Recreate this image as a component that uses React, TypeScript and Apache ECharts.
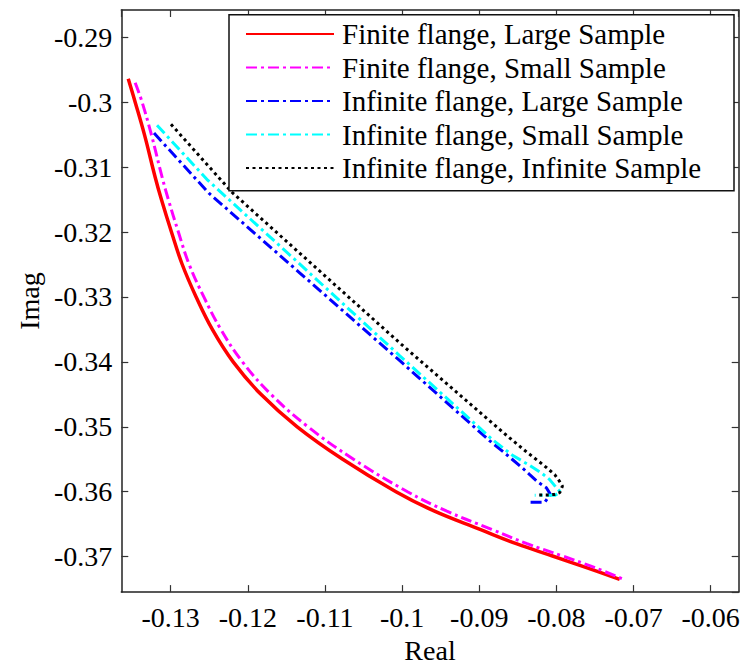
import React, { useEffect, useRef } from "react";
import * as echarts from "echarts";

const seriesNames = [
  "Finite flange, Large Sample",
  "Finite flange, Small Sample",
  "Infinite flange, Large Sample",
  "Infinite flange, Small Sample",
  "Infinite flange, Infinite Sample",
];

const finiteLarge: number[][] = [
  [-0.1355, -0.2964], [-0.1346, -0.300], [-0.1334, -0.305], [-0.1320, -0.3116],
  [-0.1312, -0.315], [-0.1299, -0.320], [-0.1285, -0.325], [-0.1267, -0.330],
  [-0.1246, -0.335], [-0.1219, -0.340], [-0.1183, -0.345], [-0.1136, -0.350],
  [-0.1077, -0.355], [-0.1008, -0.360], [-0.0958, -0.3630], [-0.0899, -0.3658],
  [-0.0852, -0.3680], [-0.0805, -0.3699], [-0.0761, -0.3717], [-0.0718, -0.3735],
];

const finiteSmall: number[][] = [
  [-0.1346, -0.2970], [-0.1337, -0.300], [-0.1325, -0.305], [-0.1311, -0.3116],
  [-0.1303, -0.315], [-0.1290, -0.320], [-0.1276, -0.325], [-0.1257, -0.330],
  [-0.1235, -0.335], [-0.1207, -0.340], [-0.1170, -0.345], [-0.1122, -0.350],
  [-0.1063, -0.355], [-0.0993, -0.360], [-0.0942, -0.3630], [-0.0884, -0.3658],
  [-0.0838, -0.3680], [-0.0792, -0.3699], [-0.0750, -0.3717], [-0.0711, -0.3736],
];

const infiniteLarge: number[][] = [
  [-0.13216, -0.30476], [-0.12504, -0.31402], [-0.11325, -0.32631], [-0.1003, -0.33982],
  [-0.08864, -0.35216], [-0.0864, -0.35434], [-0.08453, -0.35621], [-0.08346, -0.35738],
  [-0.08238, -0.35853], [-0.0813, -0.35939], [-0.08078, -0.36041], [-0.08152, -0.36162],
  [-0.08355, -0.36162],
];

const infiniteSmall: number[][] = [
  [-0.13177, -0.30355], [-0.12517, -0.31205], [-0.11325, -0.32495], [-0.1003, -0.33906],
  [-0.08821, -0.35206], [-0.08575, -0.35434], [-0.08346, -0.35595], [-0.08194, -0.35712],
  [-0.08087, -0.35813], [-0.07992, -0.3595], [-0.07948, -0.36004], [-0.08022, -0.36056],
  [-0.08281, -0.36056],
];

const infiniteInfinite: number[][] = [
  [-0.12996, -0.3034], [-0.12206, -0.31387], [-0.11325, -0.32328], [-0.1003, -0.33709],
  [-0.08648, -0.3513], [-0.08381, -0.35393], [-0.08161, -0.35595], [-0.08022, -0.35737],
  [-0.07966, -0.35828], [-0.07922, -0.35913], [-0.07957, -0.36015], [-0.08022, -0.36041],
  [-0.08109, -0.3605], [-0.08225, -0.3605],
];

const xRange = [-0.1364, -0.05637];
const yRange = [-0.37546, -0.2858];

const FONT = "Liberation Serif";

function fmt(v: number): string {
  const r = Math.round(v * 100);
  if (Math.abs(v * 100 - r) > 1e-6) return "";
  return (r / 100).toString();
}

export default function App() {
  const ref = useRef<HTMLDivElement>(null);
  useEffect(() => {
    if (!ref.current) return;
    const chart = echarts.init(ref.current, undefined, { renderer: "svg" });
    const axisLineStyle = { color: "#222", width: 1.5 };
    const tickStyle = { color: "#333", width: 1.2 };
    const baseX = {
      type: "value" as const,
      min: xRange[0],
      max: xRange[1],
      splitNumber: 8,
      splitLine: { show: false },
      axisLine: { show: true, onZero: false, lineStyle: axisLineStyle },
      axisTick: { show: true, inside: true, length: 7, lineStyle: tickStyle },
    };
    const baseY = {
      type: "value" as const,
      min: yRange[0],
      max: yRange[1],
      splitNumber: 9,
      splitLine: { show: false },
      axisLine: { show: true, onZero: false, lineStyle: axisLineStyle },
      axisTick: { show: true, inside: true, length: 7, lineStyle: tickStyle },
    };
    const dashDot = [11, 4, 3, 4];
    const lineSeries = (name: string, data: number[][], color: string, type: any, width: number, smooth: number) => ({
      type: "line" as const,
      name,
      data,
      symbol: "none",
      showSymbol: false,
      smooth,
      xAxisIndex: 0,
      yAxisIndex: 0,
      lineStyle: { color, width, type },
      itemStyle: { color },
      z: 3,
    });
    chart.setOption({
      animation: false,
      backgroundColor: "#fff",
      grid: { left: 121.3, top: 10, width: 617.4, height: 591.3, containLabel: false },
      xAxis: [
        {
          ...baseX,
          position: "bottom",
          name: "Real",
          nameLocation: "middle",
          nameGap: 40,
          nameTextStyle: { fontFamily: FONT, fontSize: 28, color: "#000" },
          axisLabel: {
            fontFamily: FONT, fontSize: 28, color: "#000", margin: 11,
            showMinLabel: false, showMaxLabel: false, formatter: fmt,
          },
        },
        { ...baseX, position: "top", axisLabel: { show: false } },
      ],
      yAxis: [
        {
          ...baseY,
          position: "left",
          name: "Imag",
          nameLocation: "middle",
          nameGap: 76,
          nameTextStyle: { fontFamily: FONT, fontSize: 28, color: "#000" },
          axisLabel: {
            fontFamily: FONT, fontSize: 28, color: "#000", margin: 9,
            showMinLabel: false, showMaxLabel: false, formatter: fmt,
          },
        },
        { ...baseY, position: "right", axisLabel: { show: false } },
      ],
      legend: {
        orient: "vertical",
        left: 245,
        top: 19.5,
        padding: 0,
        z: 20,
        itemWidth: 88,
        itemHeight: 14,
        itemGap: 4.5,
        itemStyle: { opacity: 0 },
        textStyle: { fontFamily: FONT, fontSize: 29, color: "#000", padding: [0, 0, 0, 3], lineHeight: 29 },
        data: seriesNames,
      },
      graphic: [
        {
          type: "rect",
          shape: { x: 229, y: 14.7, width: 505, height: 176 },
          style: { fill: "#fff", stroke: "#111", lineWidth: 1.5 },
          z: 5,
        },
      ],
      series: [
        lineSeries(seriesNames[0], finiteLarge, "#ff0000", "solid", 3.5, 0.4),
        lineSeries(seriesNames[1], finiteSmall, "#ff00ff", dashDot, 3, 0.4),
        lineSeries(seriesNames[2], infiniteLarge, "#0000ff", dashDot, 3, 0),
        lineSeries(seriesNames[3], infiniteSmall, "#00ffff", dashDot, 3, 0),
        lineSeries(seriesNames[4], infiniteInfinite, "#000000", [3, 3.5], 3, 0),
      ],
    });
    return () => chart.dispose();
  }, []);
  return (
    <div
      ref={ref}
      style={{ position: "absolute", left: 0, top: 0, width: 745, height: 669 }}
    />
  );
}
